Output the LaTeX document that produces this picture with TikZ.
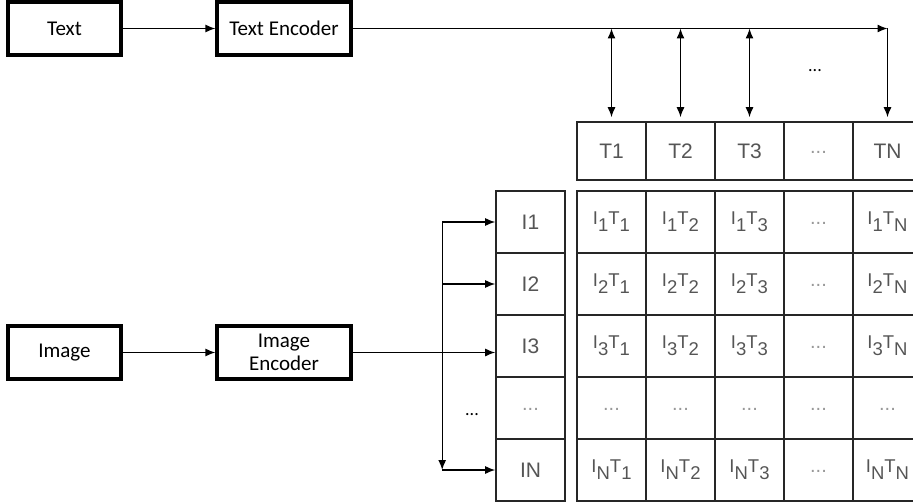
\documentclass[tikz,border=0pt]{standalone}
\usepackage{fontspec}
\setmainfont{Carlito}
\newfontfamily\gridfont{Liberation Sans}
\usetikzlibrary{arrows.meta}

\definecolor{celltext}{HTML}{555555}
% similarity entry I_r T_c, digits dropped below the letters
\newcommand{\ipair}[2]{I\raisebox{-7pt}{#1}T\raisebox{-7pt}{#2}}
\newcommand{\celldots}{{\color{black!40}\fontsize{20}{20}\selectfont\raisebox{-4pt}{...}}}

\begin{document}
\begin{tikzpicture}[x=1pt,y=-1pt,
    box/.style={draw,line width=3.2pt,minimum width=113pt,minimum height=53pt,
      inner sep=2pt,align=center,font=\fontsize{21}{23}\selectfont},
    encbox/.style={box,minimum width=134pt},
    cell/.style={draw=black!85,line width=1.6pt,minimum width=69pt,minimum height=62pt,
      inner sep=0pt,text=celltext,font=\gridfont\fontsize{21}{22}\selectfont},
    hcell/.style={cell,minimum height=58pt},
    pcell/.style={cell,font=\gridfont\fontsize{18.5}{20}\selectfont},
    arr/.style={line width=1.3pt,-{Latex[length=10pt,width=8pt]}},
    dblarr/.style={line width=1.3pt,{Latex[length=10pt,width=8pt]}-{Latex[length=10pt,width=8pt]}}]
  \useasboundingbox (0,0) rectangle (913,503);
  \clip (0,0) rectangle (913,503);

  % inputs and encoders
  \node[box] (text) at (64.5,28.5) {Text};
  \node[encbox] (textenc) at (284,28.5) {Text Encoder};
  \node[box] (image) at (64.5,352.5) {Image};
  \node[encbox] (imageenc) at (284,352.5) {Image\\Encoder};

  % text features
  \foreach \c/\lbl in {1/T1,2/T2,3/T3,4/\celldots,5/TN}
    \node[hcell] (t\c) at (542.5+69*\c,151) {\lbl};

  % image features
  \foreach \r/\lbl in {1/I1,2/I2,3/I3,4/\celldots,5/IN}
    \node[cell] (i\r) at (530.5,160+62*\r) {\lbl};

  % pairwise products
  \foreach \r/\ri in {1/1,2/2,3/3,5/N}
    \foreach \c/\ci in {1/1,2/2,3/3,5/N}
      \node[pcell] (m\r\c) at (542.5+69*\c,160+62*\r) {\ipair{\ri}{\ci}};
  \foreach \c in {1,...,5}
    \node[pcell] (m4\c) at (542.5+69*\c,408) {\celldots};
  \foreach \r in {1,2,3,5}
    \node[pcell] (m\r4) at (818.5,160+62*\r) {\celldots};

  % text branch
  \draw[arr] (text) -- (textenc);
  \coordinate (tcorner) at (t5.north |- textenc.east);
  \draw[arr] (textenc) -- (tcorner);
  \draw[arr,shorten >=4pt] (tcorner) -- (t5.north);
  \foreach \c in {1,2,3}
    \draw[dblarr,shorten <=4pt] (t\c.north) -- (t\c.north |- textenc.east);
  \node[font=\fontsize{18}{18}\selectfont] (tdots) at (815,71) {...};

  % image branch
  \draw[arr] (image) -- (imageenc);
  \draw[arr] (imageenc) -- (imageenc -| i3.west);
  \coordinate (bustop) at ([xshift=-53pt]i1.west);
  \coordinate (busbot) at ([xshift=-53pt]i5.west);
  \draw[arr] (bustop) -- (busbot);
  \draw[arr] (bustop) -- (i1);
  \draw[arr] (i2 -| bustop) -- (i2);
  \draw[arr] (busbot) -- (i5);
  \node[font=\fontsize{18}{18}\selectfont] (idots) at (472,415) {...};
\end{tikzpicture}
\end{document}
